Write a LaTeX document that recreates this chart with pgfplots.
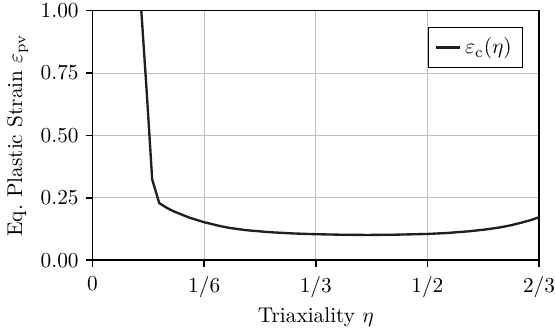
\documentclass[border=0pt]{standalone}
\usepackage{pgfplots}
\pgfplotsset{compat=1.18}
\begin{document}
\begin{tikzpicture}
\begin{axis}[
  scale only axis,
  width=209.4pt, height=117pt,
  xmin=0, xmax=0.666667, ymin=0, ymax=1,
  xtick={0,0.166667,0.333333,0.5,0.666667},
  xticklabels={0,1/6,1/3,1/2,2/3},
  xticklabel style={inner xsep=0pt, yshift=-1pt},
  ytick={0,0.25,0.5,0.75,1},
  yticklabel style={inner ysep=1.8pt, /pgf/number format/fixed,/pgf/number format/fixed zerofill,/pgf/number format/precision=2},
  grid=major,
  major grid style={draw=black!25, line width=0.5pt},
  axis line style={black, line width=0.7pt},
  tick style={black, line width=0.7pt},
  tick align=outside,
  major tick length=3pt,
  xtick pos=bottom, ytick pos=left,
  xlabel={Triaxiality $\eta$},
  xlabel shift=-2pt,
  ylabel={Eq.\ Plastic Strain $\varepsilon_{\mathrm{pv}}$},
  ylabel shift=-1pt,
  legend style={at={(0.964,0.936)}, anchor=north east, draw=black, line width=0.5pt, font=\normalsize, inner sep=3pt},
  legend image code/.code={\draw[#1, line width=1.1pt] (0pt,0pt) -- (11pt,0pt);},
  legend cell align=left,
  clip=true,
]
\addplot[color=black!88, line width=1.1pt] coordinates {
(0.0728,1.000)
(0.0812,0.66)
(0.0890,0.324)
(0.0995,0.229)
(0.110,0.211)
(0.120,0.197)
(0.130,0.186)
(0.145,0.170)
(0.1667,0.152)
(0.19,0.137)
(0.205,0.129)
(0.23,0.120)
(0.265,0.112)
(0.30,0.107)
(0.3333,0.104)
(0.37,0.102)
(0.41,0.101)
(0.45,0.102)
(0.50,0.105)
(0.53,0.109)
(0.5635,0.116)
(0.59,0.124)
(0.61,0.132)
(0.625,0.140)
(0.64,0.150)
(0.655,0.161)
(0.6667,0.172)
};
\addlegendentry{$\varepsilon_{\mathrm{c}}(\eta)$}
\end{axis}
\end{tikzpicture}
\end{document}
